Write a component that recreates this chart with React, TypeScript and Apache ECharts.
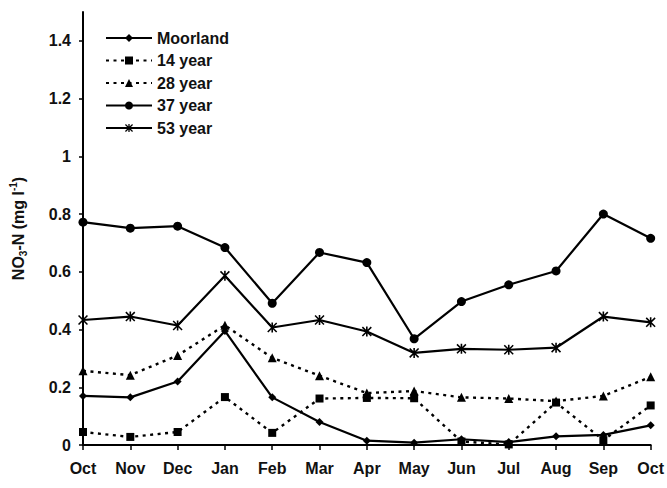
import React, { useEffect, useRef } from "react";
import * as echarts from "echarts";

const months = ["Oct", "Nov", "Dec", "Jan", "Feb", "Mar", "Apr", "May", "Jun", "Jul", "Aug", "Sep", "Oct"];
const yTicks = [0, 0.2, 0.4, 0.6, 0.8, 1, 1.2, 1.4];

const moorland = [0.17, 0.165, 0.22, 0.395, 0.165, 0.08, 0.015, 0.008, 0.02, 0.01, 0.03, 0.035, 0.068];
const year14 = [0.045, 0.028, 0.045, 0.166, 0.042, 0.161, 0.163, 0.162, 0.012, 0.002, 0.147, 0.017, 0.137];
const year28 = [0.257, 0.242, 0.31, 0.415, 0.302, 0.24, 0.18, 0.187, 0.165, 0.161, 0.152, 0.17, 0.236];
const year37 = [0.772, 0.751, 0.758, 0.684, 0.491, 0.667, 0.632, 0.368, 0.497, 0.555, 0.603, 0.8, 0.716];
const year53 = [0.433, 0.445, 0.414, 0.586, 0.407, 0.433, 0.393, 0.319, 0.333, 0.33, 0.337, 0.445, 0.425];

const FONT = "'Liberation Sans', Arial, Helvetica, sans-serif";
const ASTERISK =
  "path://M4.2,0 L5.8,0 L5.8,10 L4.2,10 Z M0,1.1 L1.1,0 L10,8.9 L8.9,10 Z M8.9,0 L10,1.1 L1.1,10 L0,8.9 Z";

function mk(name: string, data: number[], symbol: string, size: number, dotted: boolean) {
  return {
    name,
    type: "line",
    data,
    symbol,
    symbolSize: size,
    showSymbol: true,
    itemStyle: { color: "#000", borderWidth: 0 },
    lineStyle: {
      color: "#000",
      width: dotted ? 2.4 : 2.2,
      type: dotted ? [3, 4.5] : "solid",
    },
    emphasis: { disabled: true },
  };
}

export default function App() {
  const ref = useRef<HTMLDivElement>(null);
  useEffect(() => {
    if (!ref.current) return;
    const chart = echarts.init(ref.current, null, { renderer: "svg" });
    chart.setOption({
      animation: false,
      backgroundColor: "#fff",
      textStyle: { fontFamily: FONT },
      grid: { left: 75, right: 11, top: 12, bottom: 43, containLabel: false },
      legend: {
        orient: "vertical",
        left: 100,
        top: 25,
        itemWidth: 46,
        itemHeight: 10,
        itemGap: 6.5,
        textStyle: { fontFamily: FONT, fontSize: 16, fontWeight: "bold", color: "#111", lineHeight: 16 },
        data: ["Moorland", "14 year", "28 year", "37 year", "53 year"],
      },
      xAxis: {
        type: "category",
        data: months,
        boundaryGap: false,
        axisLine: { lineStyle: { color: "#000", width: 2 } },
        axisTick: { show: true, inside: false, length: 5, lineStyle: { color: "#000", width: 1.5 } },
        axisLabel: {
          color: "#111",
          fontFamily: FONT,
          fontSize: 16,
          fontWeight: "bold",
          margin: 15,
          interval: 0,
        },
        splitLine: { show: false },
      },
      yAxis: {
        type: "value",
        min: 0,
        max: 1.5,
        name: "NO{sub|3}-N (mg l{sup|-1})",
        nameLocation: "middle",
        nameRotate: 90,
        nameGap: 55,
        nameTextStyle: {
          fontFamily: FONT,
          fontSize: 16,
          fontWeight: "bold",
          color: "#111",
          lineHeight: 20,
          rich: {
            sub: { fontSize: 10, fontWeight: "bold", verticalAlign: "bottom", lineHeight: 20, fontFamily: FONT, color: "#111" },
            sup: { fontSize: 10, fontWeight: "bold", verticalAlign: "top", lineHeight: 20, fontFamily: FONT, color: "#111" },
          },
        },
        axisLine: { show: true, lineStyle: { color: "#000", width: 2 } },
        axisTick: { show: true, inside: false, length: 4, customValues: yTicks, lineStyle: { color: "#000", width: 1.5 } },
        axisLabel: {
          customValues: yTicks,
          color: "#111",
          fontFamily: FONT,
          fontSize: 16,
          fontWeight: "bold",
          margin: 12,
          formatter: (v: number) => String(v),
        },
        splitLine: { show: false },
      },
      series: [
        mk("Moorland", moorland, "diamond", 8, false),
        mk("14 year", year14, "rect", 8, true),
        mk("28 year", year28, "triangle", 9, true),
        mk("37 year", year37, "circle", 9, false),
        mk("53 year", year53, ASTERISK, 10, false),
      ],
    });
    return () => chart.dispose();
  }, []);
  return (
    <div
      ref={ref}
      style={{ position: "fixed", left: 0, top: 0, width: 667, height: 488, background: "#fff" }}
    />
  );
}
